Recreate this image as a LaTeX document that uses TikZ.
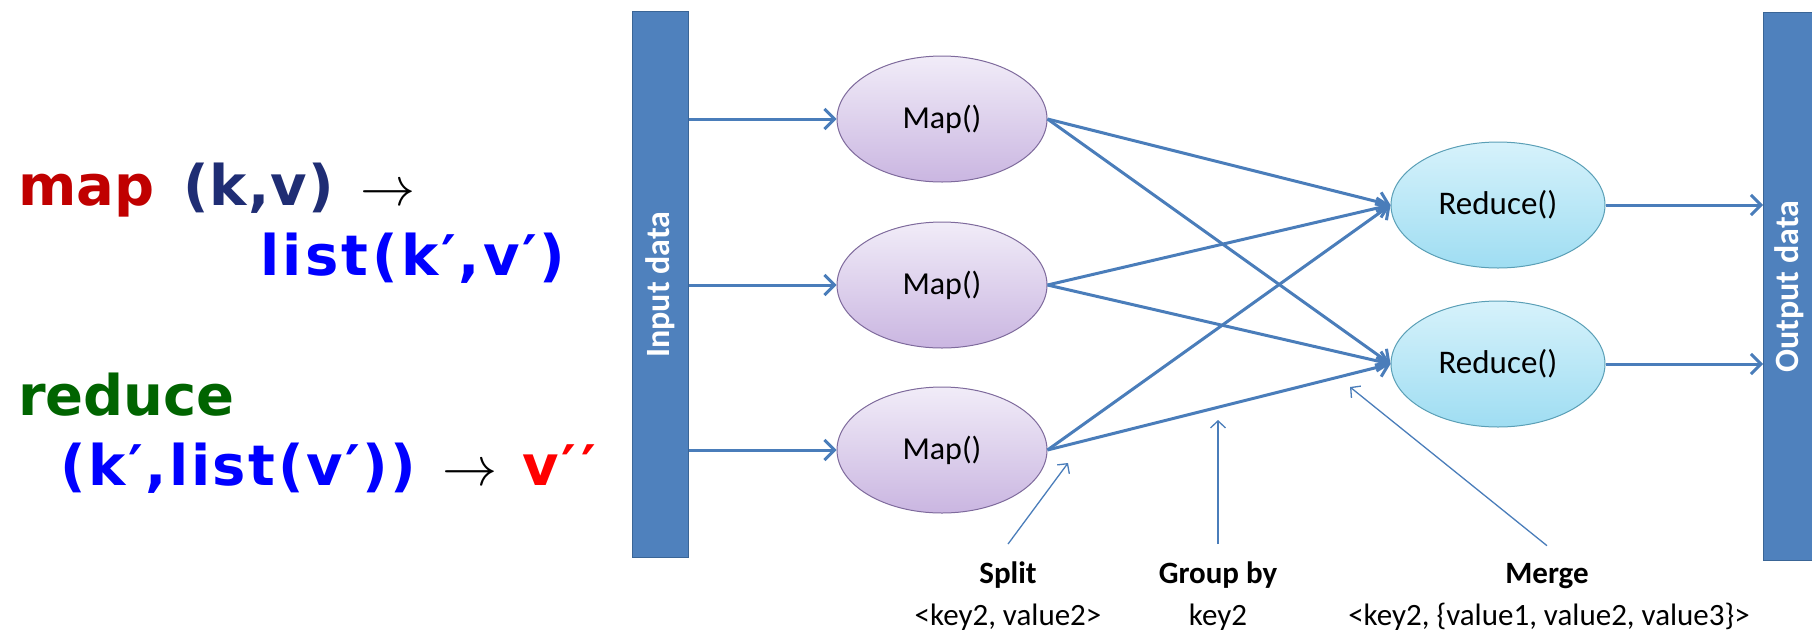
\RequirePackage{fix-cm}
\documentclass[tikz,border=0pt]{standalone}
\usepackage{fontspec}
\setmainfont{Carlito}
\newfontfamily\lhsfont{DejaVu Sans}
\usetikzlibrary{arrows.meta,shapes.geometric}

\definecolor{barblue}{HTML}{4F81BD}
\definecolor{barborder}{HTML}{3A6596}
\definecolor{flowblue}{HTML}{4A7DBA}
\definecolor{maptop}{HTML}{F1ECF8}
\definecolor{mapbot}{HTML}{CAB6E1}
\definecolor{mapedge}{HTML}{7E6A9C}
\definecolor{redtop}{HTML}{D6F2FB}
\definecolor{redbot}{HTML}{9FDDF2}
\definecolor{rededge}{HTML}{5A9FB6}
\definecolor{kwred}{HTML}{C00000}
\definecolor{kwnavy}{HTML}{1F2D74}
\definecolor{kwblue}{HTML}{0000FF}
\definecolor{kwgreen}{HTML}{006400}
\definecolor{kwbright}{HTML}{FF0000}

% a prime set in a fixed-width slot
\newcommand\pr{\makebox[0.36em][c]{′}}

\tikzset{
  databar/.style={draw=barborder, fill=barblue, line width=1.2pt},
  bartext/.style={text=white, font=\fontsize{34}{40}\selectfont\bfseries, rotate=90, inner sep=0pt},
  mapnode/.style={ellipse, draw=mapedge, line width=1pt, top color=maptop, bottom color=mapbot,
    minimum width=210pt, minimum height=126pt, inner sep=0pt, font=\fontsize{32}{38}\selectfont},
  reducenode/.style={ellipse, draw=rededge, line width=1pt, top color=redtop, bottom color=redbot,
    minimum width=214pt, minimum height=126pt, inner sep=0pt, font=\fontsize{33}{40}\selectfont},
  flow/.style={draw=flowblue, line width=3pt, -{Straight Barb[length=10pt,width=20pt]}},
  note/.style={draw=flowblue, line width=1.3pt, -{Straight Barb[length=7pt,width=15pt]}},
  lbl/.style={inner sep=0pt, anchor=base, font=\fontsize{31}{37}\selectfont},
  lblhead/.style={lbl, font=\fontsize{31}{37}\selectfont\bfseries},
  formula/.style={inner sep=0pt, anchor=base west, font=\fontsize{56}{66}\selectfont\lhsfont\bfseries},
  maparrow/.style={inner sep=0pt, anchor=base west, font=\fontsize{55}{66}\selectfont},
}

\begin{document}
\begin{tikzpicture}[x=1pt, y=-1pt]
\useasboundingbox (0,0) rectangle (1812,633);

% signature of map
\node[formula, text=kwred] (fmap) at (18,205) {map};
\node[formula, text=kwnavy] (fmapin) at (183,205) {\addfontfeatures{LetterSpace=2}(k,v)};
\node[maparrow] (fmaparr) at (360,205) {$\rightarrow$};
\node[formula, text=kwblue] (fmapout) at (260,275) {\addfontfeatures{LetterSpace=6}list(k\pr,v\pr)};

% signature of reduce
\node[formula, text=kwgreen] (fred) at (18,415) {reduce};
\node[formula, text=kwblue] (fredin) at (60,485) {\addfontfeatures{LetterSpace=4.5}(k\pr,list(v\pr))};
\node[maparrow] (fredarr) at (442,485) {$\rightarrow$};
\node[formula, text=kwbright] (fredout) at (522,485) {\addfontfeatures{LetterSpace=8}v\pr\pr};

% input and output columns
\node[databar, minimum width=56pt, minimum height=546pt, inner sep=0pt, anchor=north west] (inbar) at (632,11) {};
\node[bartext] at (inbar.center) {Input data};
\node[databar, minimum width=56pt, minimum height=548pt, inner sep=0pt, anchor=north west] (outbar) at (1763,12) {};
\node[bartext] at ([xshift=-2pt]outbar.center) {Output data};

% map tasks
\node[mapnode] (m1) at (942,119) {Map()};
\node[mapnode] (m2) at (942,285) {Map()};
\node[mapnode] (m3) at (942,450) {Map()};

% reduce tasks
\node[reducenode] (r1) at (1498,205) {Reduce()};
\node[reducenode] (r2) at (1498,364) {Reduce()};

% input splits to mappers
\foreach \m in {m1,m2,m3}
  \draw[flow] (inbar.east |- \m) -- (\m.west);

% shuffle: every mapper feeds every reducer
\foreach \m in {m1,m2,m3}
  \foreach \r in {r1,r2}
    \draw[flow] (\m.east) -- (\r.west);

% reducers to output
\foreach \r in {r1,r2}
  \draw[flow] (\r.east) -- (outbar.west |- \r);

% phase annotations
\node[lblhead] (split) at (1008,583) {Split};
\node[lbl] (splitkv) at (1008,625) {<key2, value2>};
\node[lblhead] (group) at (1218,583) {Group by};
\node[lbl] (groupkey) at (1218,625) {key2};
\node[lblhead] (merge) at (1547,583) {Merge};
\node[lbl] (mergekv) at (1549,625) {<key2, \{value1, value2, value3\}>};

\coordinate (splittip) at (1068,463);
\coordinate (grouptip) at (1218,420);
\coordinate (mergetip) at (1350,387);
\draw[note] (split.north) ++(0,-17) -- (splittip);
\draw[note] (group.north) ++(0,-17) -- (grouptip);
\draw[note] (merge.north) ++(0,-17) -- (mergetip);
\end{tikzpicture}
\end{document}
